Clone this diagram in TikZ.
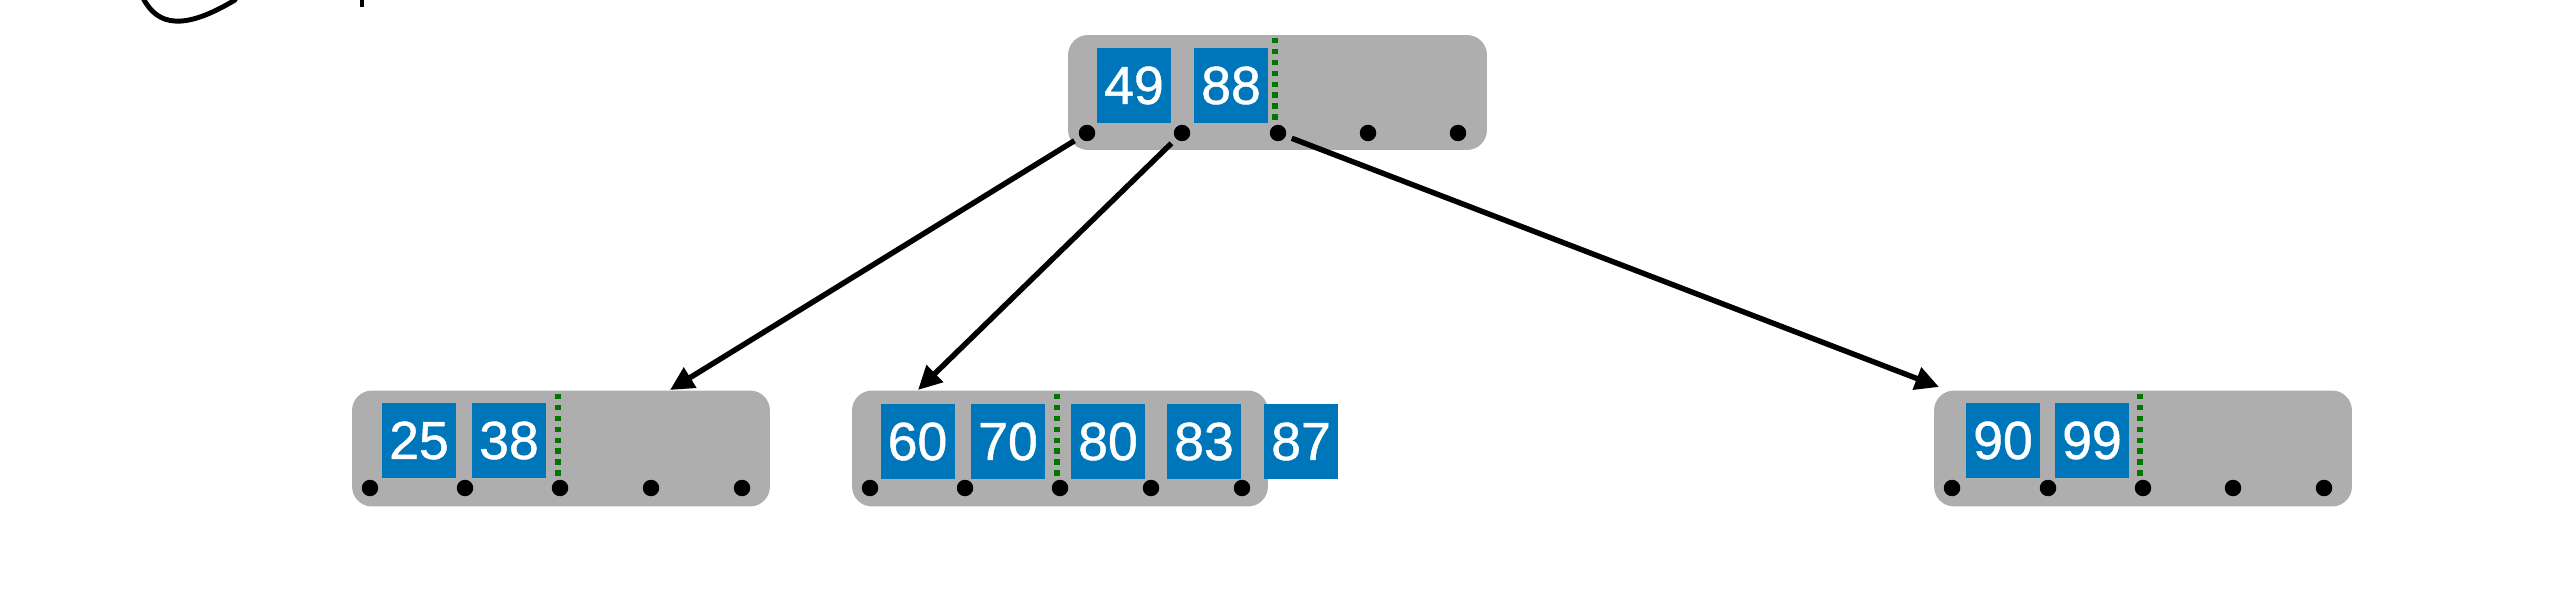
\documentclass[tikz,border=0pt]{standalone}
\usepackage{fontspec}
\setmainfont{Liberation Sans}
\newfontfamily\keyfont{Liberation Sans}[FakeBold=0.9]
\usetikzlibrary{arrows.meta}
\definecolor{boxgray}{RGB}{174,174,174}
\definecolor{keyblue}{RGB}{0,118,186}
\definecolor{splitgreen}{RGB}{0,120,0}
\tikzset{
  nodebox/.style={fill=boxgray, draw=none, rounded corners=0.4cm, minimum width=8.36cm, minimum height=2.32cm, inner sep=0pt},
  keybox/.style={fill=keyblue, text=white, minimum width=1.48cm, minimum height=1.5cm, inner sep=0pt, font=\keyfont\fontsize{30.5}{30}\selectfont},
  ptr/.style={circle, fill=black, minimum size=0.33cm, inner sep=0pt},
  splitline/.style={splitgreen, line width=3pt, dash pattern=on 3pt off 3.2pt},
  arr/.style={line width=3.1pt, shorten <=3.5pt, -{Triangle[length=13.5pt,width=13pt]}},
}
\begin{document}
\begin{tikzpicture}[x=0.02cm,y=-0.02cm]
\useasboundingbox (0,0) rectangle (2558,594);
% handwritten fragment
\draw[line width=2.8pt, line cap=round] (143,-2) .. controls (158,27) and (185,30) .. (235,0);
\draw[line width=2.8pt] (362,0) -- (362,7);
% top node
\node[nodebox, minimum width=8.38cm, minimum height=2.3cm] (top) at (1277.5,92.5) {};
\node[keybox] (k49) at (1134,85.5) {49};
\node[keybox] (k88) at (1231,85.5) {88};
\draw[splitline] (1275,38) -- (1275,123);
\foreach \i/\x in {1/1087,2/1182,3/1278,4/1368,5/1458} \node[ptr] (T\i) at (\x,133) {};
% left node
\node[nodebox] (left) at (561,448.5) {};
\node[keybox] (k25) at (419,440.5) {25};
\node[keybox] (k38) at (509,440.5) {38};
\draw[splitline] (558,394) -- (558,478);
\foreach \i/\x in {1/370,2/465,3/560,4/651,5/742} \node[ptr] (L\i) at (\x,488) {};
% middle node
\node[nodebox, minimum width=8.32cm] (mid) at (1060,448.5) {};
\node[keybox] (k60) at (917.5,441.5) {60};
\node[keybox] (k70) at (1008,441.5) {70};
\draw[splitline] (1057,394) -- (1057,478);
\node[keybox] (k80) at (1108,441.5) {80};
\node[keybox] (k83) at (1204,441.5) {83};
\foreach \i/\x in {1/870,2/965,3/1060,4/1151,5/1242} \node[ptr] (M\i) at (\x,488) {};
\node[keybox] (k87) at (1301,441.5) {87};
% right node
\node[nodebox] (right) at (2143,448.5) {};
\node[keybox] (k90) at (2003,440.5) {90};
\node[keybox] (k99) at (2092,440.5) {99};
\draw[splitline] (2140,394) -- (2140,478);
\foreach \i/\x in {1/1952,2/2048,3/2143,4/2233,5/2324} \node[ptr] (R\i) at (\x,488) {};
% connectors
\coordinate (Ltip) at (670,390);
\coordinate (Mtip) at (918,390);
\coordinate (Rtip) at (1939,387);
\draw[arr] (T1) -- (Ltip);
\draw[arr] (T2) -- (Mtip);
\draw[arr] (T3) -- (Rtip);
\end{tikzpicture}
\end{document}
